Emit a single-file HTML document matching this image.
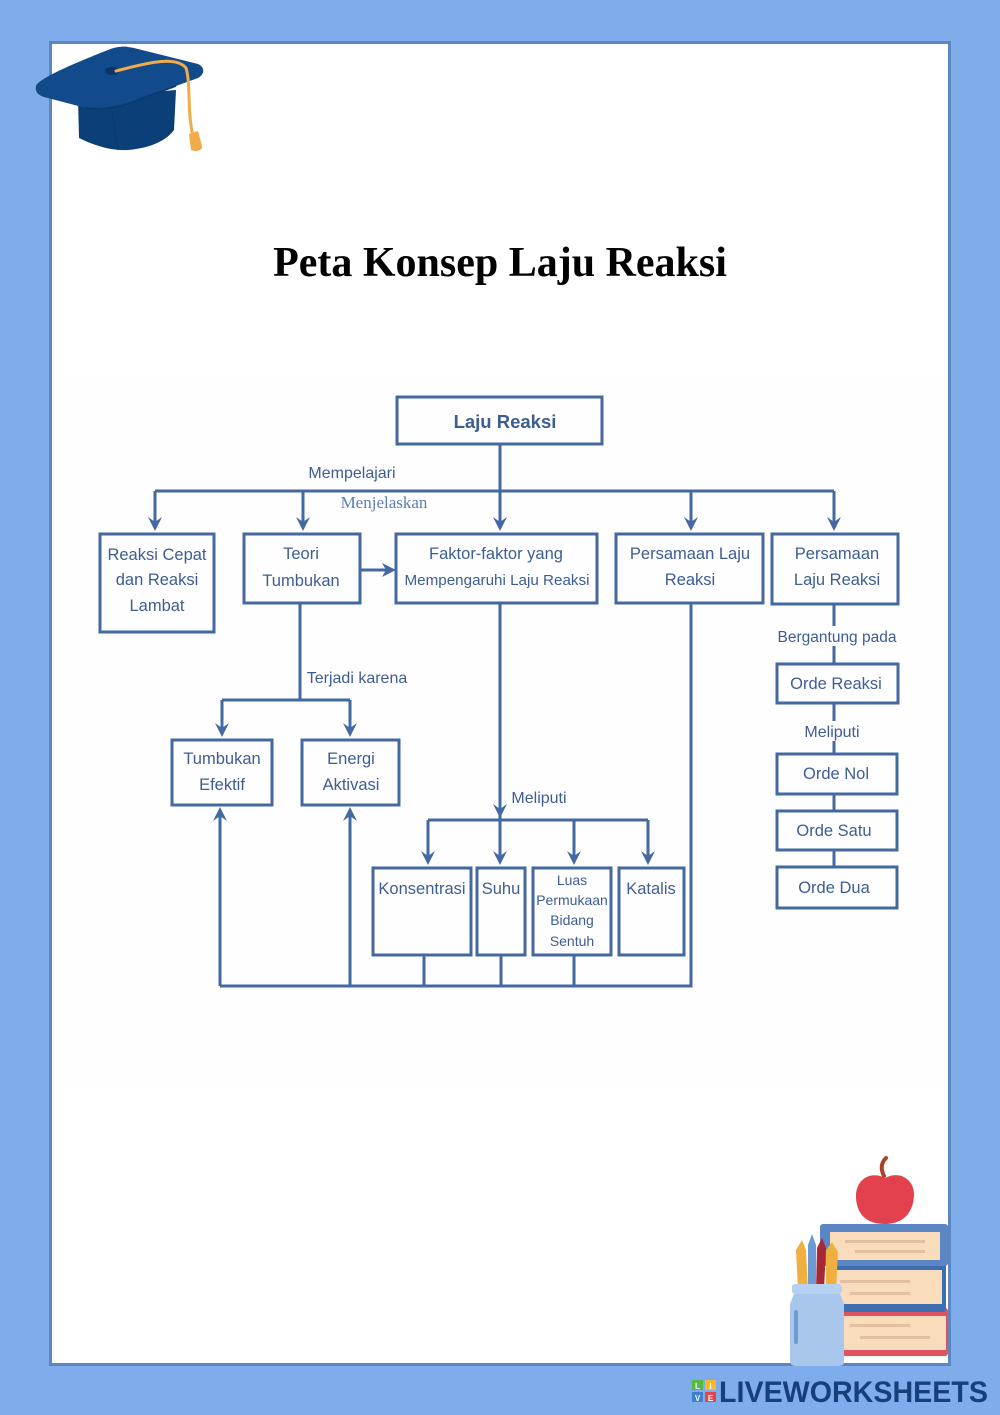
<!DOCTYPE html>
<html><head><meta charset="utf-8"><style>
html,body{margin:0;padding:0;}
body{width:1000px;height:1415px;background:#7fadec;overflow:hidden;}
svg{display:block;}
</style></head><body>
<svg width="1000" height="1415" viewBox="0 0 1000 1415" xmlns="http://www.w3.org/2000/svg">
<rect x="0" y="0" width="1000" height="1415" fill="#7fadec"/>
<!-- white panel -->
<rect x="50.5" y="42.5" width="899" height="1322" fill="#ffffff" stroke="#5b86c0" stroke-width="3"/>
<!-- diagram area -->
<rect x="63" y="375" width="885" height="708" fill="#fefefe"/>

<!-- graduation cap -->
<g>
<path d="M78,98 L79,138 C95,146 112,151 128,150 C150,148 166,141 174,130 L176,90 Z" fill="#0b3f78"/>
<path d="M36,86 C38,80 62,68 108,50 C118,46 126,46 134,48 L198,64 C205,67 205,74 198,78 L132,102 C116,108 100,110 86,108 L44,97 C37,95 35,91 36,86 Z" fill="#124b8c"/>
<path d="M86,108 C100,110 116,108 132,102 L176,86" stroke="#0a3a6e" stroke-width="1.5" fill="none"/>
<path d="M112,112 L118,150" stroke="#0a3a6e" stroke-width="1.5" fill="none"/>
<ellipse cx="112" cy="71" rx="7" ry="4" fill="#0a3566"/>
<path d="M116,71 C150,62 176,56 186,68 C191,85 187,112 193,136" stroke="#f0ab4a" stroke-width="3" fill="none" stroke-linecap="round"/>
<path d="M189,134 L198,131 L202,146 C203,151 195,152 191,150 Z" fill="#f0ab4a"/>
</g>

<!-- title -->
<text x="500" y="276" text-anchor="middle" font-family="Liberation Serif, serif" font-weight="bold" font-size="42" fill="#000">Peta Konsep Laju Reaksi</text>

<!-- diagram -->
<g stroke="#4468a0" stroke-width="3" fill="none">
<rect x="397" y="397" width="205" height="47"/>
<line x1="500" y1="444" x2="500" y2="491"/>
<line x1="155" y1="491" x2="834" y2="491"/>
<line x1="155" y1="491" x2="155" y2="528"/>
<line x1="303" y1="491" x2="303" y2="528"/>
<line x1="500" y1="491" x2="500" y2="528"/>
<line x1="691" y1="491" x2="691" y2="528"/>
<line x1="834" y1="491" x2="834" y2="528"/>
<rect x="100" y="534" width="114" height="98"/>
<rect x="244" y="534" width="116" height="69"/>
<rect x="396" y="534" width="201" height="69"/>
<rect x="616" y="534" width="147" height="69"/>
<rect x="772" y="534" width="126" height="70"/>
<line x1="360" y1="570" x2="388" y2="570"/>
<!-- teori branch -->
<line x1="300" y1="603" x2="300" y2="700"/>
<line x1="222" y1="700" x2="350" y2="700"/>
<line x1="222" y1="700" x2="222" y2="730"/>
<line x1="350" y1="700" x2="350" y2="730"/>
<rect x="172" y="740" width="100" height="65"/>
<rect x="302" y="740" width="97" height="65"/>
<!-- faktor branch -->
<line x1="500" y1="603" x2="500" y2="812"/>
<line x1="428" y1="820" x2="648" y2="820"/>
<line x1="500" y1="812" x2="500" y2="858"/>
<line x1="428" y1="820" x2="428" y2="858"/>
<line x1="574" y1="820" x2="574" y2="858"/>
<line x1="648" y1="820" x2="648" y2="858"/>
<rect x="373" y="868" width="98" height="87"/>
<rect x="477" y="868" width="48" height="87"/>
<rect x="533" y="868" width="78" height="87"/>
<rect x="619" y="868" width="65" height="87"/>
<line x1="424" y1="955" x2="424" y2="986"/>
<line x1="501" y1="955" x2="501" y2="986"/>
<line x1="574" y1="955" x2="574" y2="986"/>
<line x1="691" y1="603" x2="691" y2="986"/>
<line x1="220" y1="986" x2="692.5" y2="986"/>
<line x1="220" y1="986" x2="220" y2="815"/>
<line x1="350" y1="986" x2="350" y2="815"/>
<!-- right column -->
<line x1="834" y1="604" x2="834" y2="664"/>
<rect x="777" y="664" width="121" height="39"/>
<line x1="834" y1="703" x2="834" y2="754"/>
<rect x="777" y="754" width="120" height="40"/>
<line x1="834" y1="794" x2="834" y2="811"/>
<rect x="777" y="811" width="120" height="39"/>
<line x1="834" y1="850" x2="834" y2="867"/>
<rect x="777" y="867" width="120" height="41"/>
</g>

<!-- arrowheads -->
<g fill="#4468a0">
<path d="M148,517 L155,531 L162,517 L155,522 Z"/>
<path d="M296,517 L303,531 L310,517 L303,522 Z"/>
<path d="M493,517 L500,531 L507,517 L500,522 Z"/>
<path d="M684,517 L691,531 L698,517 L691,522 Z"/>
<path d="M827,517 L834,531 L841,517 L834,522 Z"/>
<path d="M382,563 L396,570 L382,577 L386,570 Z"/>
<path d="M215,723 L222,737 L229,723 L222,728 Z"/>
<path d="M343,723 L350,737 L357,723 L350,728 Z"/>
<path d="M493,804 L500,818 L507,804 L500,809 Z"/>
<path d="M421,851 L428,865 L435,851 L428,856 Z"/>
<path d="M493,851 L500,865 L507,851 L500,856 Z"/>
<path d="M567,851 L574,865 L581,851 L574,856 Z"/>
<path d="M641,851 L648,865 L655,851 L648,856 Z"/>
<path d="M213,821 L220,807 L227,821 L220,816 Z"/>
<path d="M343,821 L350,807 L357,821 L350,816 Z"/>
</g>

<!-- label backgrounds on right column -->
<rect x="776" y="626" width="122" height="20" fill="#fefefe"/>
<rect x="802" y="721" width="60" height="20" fill="#fefefe"/>

<g font-family="Liberation Sans, Arial, sans-serif" fill="#3d5d93" text-anchor="middle">
<text x="505" y="428" font-size="18.5" font-weight="bold">Laju Reaksi</text>
<text x="352" y="478" font-size="16">Mempelajari</text>
<text x="157" y="560" font-size="16.5">Reaksi Cepat</text>
<text x="157" y="585" font-size="16.5">dan Reaksi</text>
<text x="157" y="611" font-size="16.5">Lambat</text>
<text x="301" y="559" font-size="16.5">Teori</text>
<text x="301" y="586" font-size="16.5">Tumbukan</text>
<text x="496" y="559" font-size="16.5">Faktor-faktor yang</text>
<text x="497" y="585" font-size="15" textLength="185" lengthAdjust="spacingAndGlyphs">Mempengaruhi Laju Reaksi</text>
<text x="690" y="559" font-size="16.5">Persamaan Laju</text>
<text x="690" y="585" font-size="16.5">Reaksi</text>
<text x="837" y="559" font-size="16.5">Persamaan</text>
<text x="837" y="585" font-size="16.5">Laju Reaksi</text>
<text x="357" y="683" font-size="16">Terjadi karena</text>
<text x="222" y="764" font-size="16.5">Tumbukan</text>
<text x="222" y="790" font-size="16.5">Efektif</text>
<text x="351" y="764" font-size="16.5">Energi</text>
<text x="351" y="790" font-size="16.5">Aktivasi</text>
<text x="539" y="803" font-size="16">Meliputi</text>
<text x="422" y="894" font-size="16.5">Konsentrasi</text>
<text x="501" y="894" font-size="16.5">Suhu</text>
<text x="572" y="885" font-size="14">Luas</text>
<text x="572" y="905" font-size="14">Permukaan</text>
<text x="572" y="925" font-size="14">Bidang</text>
<text x="572" y="946" font-size="14">Sentuh</text>
<text x="651" y="894" font-size="16.5">Katalis</text>
<text x="837" y="642" font-size="15.5">Bergantung pada</text>
<text x="836" y="689" font-size="16.5">Orde Reaksi</text>
<text x="832" y="737" font-size="16">Meliputi</text>
<text x="836" y="779" font-size="16.5">Orde Nol</text>
<text x="834" y="836" font-size="16.5">Orde Satu</text>
<text x="834" y="893" font-size="16.5">Orde Dua</text>
</g>
<text x="384" y="508" text-anchor="middle" font-family="Liberation Serif, serif" font-size="17" fill="#5b80b8">Menjelaskan</text>

<!-- books illustration -->
<g>
<!-- bottom red book -->
<rect x="836" y="1308" width="112" height="48" rx="3" fill="#e05262"/>
<rect x="842" y="1316" width="104" height="34" fill="#f8dcbc"/>
<rect x="850" y="1324" width="60" height="3" fill="#e2bfa0"/>
<rect x="860" y="1336" width="70" height="3" fill="#e2bfa0"/>
<!-- middle blue book -->
<rect x="826" y="1260" width="120" height="52" rx="3" fill="#3f6eb0"/>
<rect x="832" y="1270" width="110" height="34" fill="#f8dcbc"/>
<rect x="840" y="1280" width="70" height="3" fill="#e2bfa0"/>
<rect x="850" y="1292" width="60" height="3" fill="#e2bfa0"/>
<!-- top book -->
<rect x="820" y="1224" width="128" height="42" rx="3" fill="#5a86c4"/>
<rect x="830" y="1232" width="110" height="28" fill="#f8dcbc"/>
<rect x="845" y="1240" width="80" height="3" fill="#e2bfa0"/>
<rect x="855" y="1250" width="70" height="3" fill="#e2bfa0"/>
<!-- apple -->
<path d="M884,1176 C880,1168 882,1162 886,1158" stroke="#a8452c" stroke-width="4" fill="none" stroke-linecap="round"/>
<path d="M885,1178 C870,1170 855,1180 856,1198 C857,1214 866,1224 885,1224 C904,1224 913,1212 914,1196 C915,1180 900,1170 885,1178 Z" fill="#e2414d"/>
<!-- pencils -->
<path d="M796,1250 L802,1240 L806,1250 L808,1290 L798,1290 Z" fill="#f0b040"/>
<path d="M808,1245 L812,1234 L816,1245 L816,1290 L808,1290 Z" fill="#6c9ad4"/>
<path d="M817,1248 L822,1238 L826,1248 L824,1290 L816,1290 Z" fill="#a8283a"/>
<path d="M826,1250 L832,1242 L838,1252 L836,1290 L826,1290 Z" fill="#f0b040"/>
<!-- jar -->
<rect x="792" y="1284" width="50" height="10" rx="3" fill="#b5d0f0"/>
<path d="M794,1294 L840,1294 L844,1304 L844,1362 C844,1366 840,1366 836,1366 L796,1366 C792,1366 790,1364 790,1360 L790,1304 Z" fill="#a9c6ec"/>
<rect x="794" y="1310" width="4" height="34" rx="2" fill="#6e9bd0"/>
</g>

<!-- liveworksheets logo -->
<g>
<rect x="692" y="1380" width="11" height="10" fill="#58b947"/>
<rect x="705" y="1380" width="11" height="10" fill="#f5b92a"/>
<rect x="692" y="1392" width="11" height="10" fill="#3f7fd0"/>
<rect x="705" y="1392" width="11" height="10" fill="#e4434a"/>
<text x="697.5" y="1389" font-family="Liberation Sans, sans-serif" font-size="8" font-weight="bold" fill="#fff" text-anchor="middle">L</text>
<text x="710.5" y="1389" font-family="Liberation Sans, sans-serif" font-size="8" font-weight="bold" fill="#fff" text-anchor="middle">I</text>
<text x="697.5" y="1401" font-family="Liberation Sans, sans-serif" font-size="8" font-weight="bold" fill="#fff" text-anchor="middle">V</text>
<text x="710.5" y="1401" font-family="Liberation Sans, sans-serif" font-size="8" font-weight="bold" fill="#fff" text-anchor="middle">E</text>
<text x="719" y="1402" font-family="Liberation Sans, sans-serif" font-size="30" font-weight="bold" fill="#173f7c" textLength="269" lengthAdjust="spacingAndGlyphs">LIVEWORKSHEETS</text>
</g>
</svg>
</body></html>
